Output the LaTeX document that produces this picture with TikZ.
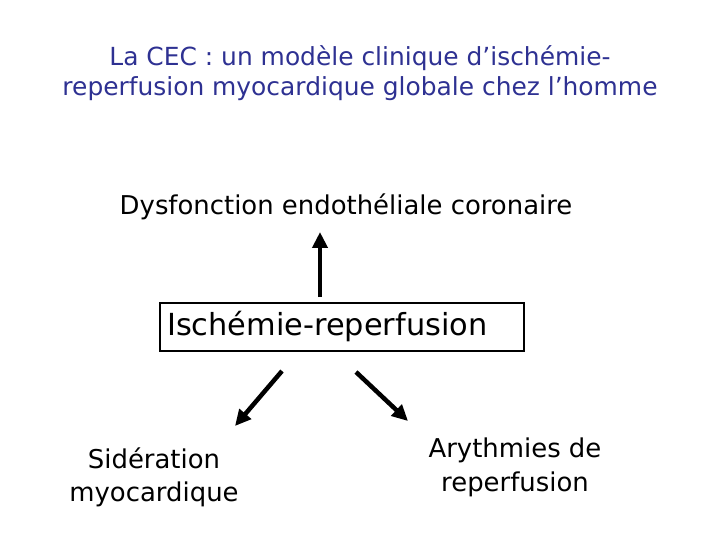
\documentclass[tikz,border=0pt]{standalone}
\usepackage{fontspec}
\setmainfont{DejaVu Sans}
\usepackage{xcolor}
\usetikzlibrary{arrows.meta}
\definecolor{titleBlue}{HTML}{2E3192}
\definecolor{ink}{HTML}{000000}

\begin{document}
\begin{tikzpicture}[x=1bp,y=-1bp,
  txt/.style={inner sep=0pt,align=center,text=ink,font=\fontsize{26}{33}\selectfont},
  bigarrow/.style={-{Triangle[length=16bp,width=15bp]},line width=4.5bp,ink}]
\useasboundingbox (0,0) rectangle (720,540);
% title
\node[inner sep=0pt,align=center,text=titleBlue,font=\fontsize{25}{30}\selectfont] (title) at (360,73)
  {La CEC : un modèle clinique d’ischémie-\\reperfusion myocardique globale chez l’homme};
% effects and cause
\node[txt] (dys) at (346,207) {Dysfonction endothéliale coronaire};
\node[draw=ink,line width=2bp,minimum width=364bp,minimum height=48bp,inner sep=0pt] (isch) at (342,327) {};
\node[anchor=west,inner sep=0pt,text=ink,font=\fontsize{30.5}{30}\selectfont] (ischtxt) at ([xshift=8bp]isch.west) {Ischémie-reperfusion};
\node[txt] (sid) at (154,477) {Sidération\\myocardique};
\node[txt,font=\fontsize{26}{34}\selectfont] (ary) at (515,467) {Arythmies de\\reperfusion};
% arrows
\coordinate (up0) at (320,297);
\coordinate (up1) at (320,232);
\coordinate (l0) at (282,371);
\coordinate (l1) at (235,426);
\coordinate (r0) at (356,372);
\coordinate (r1) at (408,421);
\draw[bigarrow] (up0) -- (up1);
\draw[bigarrow] (l0) -- (l1);
\draw[bigarrow] (r0) -- (r1);
\end{tikzpicture}
\end{document}
